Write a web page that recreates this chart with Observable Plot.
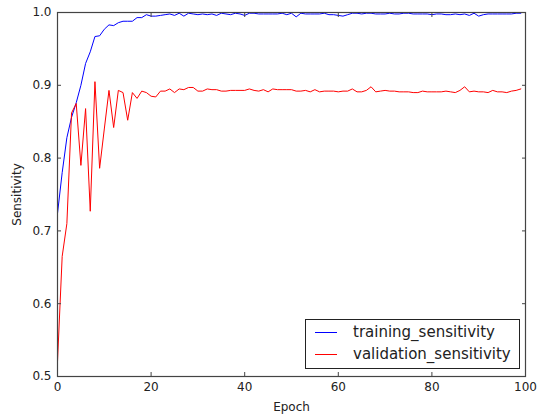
<!DOCTYPE html>
<html>
<head>
<meta charset="utf-8">
<script src="https://cdn.jsdelivr.net/npm/d3@7"></script>
<script src="https://cdn.jsdelivr.net/npm/@observablehq/plot@0.6"></script>
<style>
  body { margin: 0; background: #fff; }
  #wrap { position: relative; width: 548px; height: 414px; font-family: "DejaVu Sans", sans-serif; }
  #legend { position: absolute; left: 305px; top: 319px; width: 215px; height: 50px; border: 1px solid #222; background: #fff; box-sizing: border-box; font-size: 15px; color: #222; }
  .row { position: absolute; left: 0; height: 20px; display: flex; align-items: center; }
  .sw { width: 22px; height: 0; border-top: 1px solid; margin-left: 9px; margin-right: 16px; }
</style>
</head>
<body>
<div id="wrap"></div>
<script>
const seriesNames = ["training_sensitivity", "validation_sensitivity"];
const seriesColors = ["#0000ff", "#ff0000"];
const training = [
  0.724, 0.780, 0.828, 0.856, 0.876, 0.900, 0.930, 0.946, 0.967, 0.968,
  0.977, 0.983, 0.982, 0.986, 0.988, 0.988, 0.988, 0.993, 0.993, 0.997,
  0.995, 0.995, 0.996, 0.997, 0.998, 0.996, 0.999, 0.995, 0.999, 0.998,
  0.997, 0.998, 0.997, 0.998, 0.996, 0.999, 0.998, 0.997, 0.999, 0.998,
  0.996, 0.999, 0.999, 0.998, 0.998, 0.998, 0.998, 0.998, 0.999, 0.997,
  0.999, 0.994, 0.999, 0.998, 0.998, 0.998, 0.998, 0.999, 0.997, 0.997,
  0.996, 0.995, 0.997, 0.999, 0.999, 0.998, 0.999, 0.999, 0.998, 0.998,
  0.998, 0.999, 0.998, 0.998, 0.999, 0.999, 0.998, 0.998, 0.998, 0.998,
  0.997, 0.998, 0.998, 0.997, 0.997, 0.998, 0.997, 0.998, 0.996, 0.999,
  0.995, 0.997, 0.998, 0.998, 0.998, 0.998, 0.998, 0.998, 0.999, 0.999
];
const validation = [
  0.520, 0.665, 0.710, 0.862, 0.875, 0.790, 0.868, 0.727, 0.905, 0.786,
  0.840, 0.893, 0.842, 0.893, 0.890, 0.852, 0.890, 0.882, 0.892, 0.890,
  0.885, 0.884, 0.892, 0.892, 0.895, 0.890, 0.895, 0.894, 0.897, 0.897,
  0.892, 0.892, 0.895, 0.894, 0.894, 0.892, 0.892, 0.893, 0.893, 0.893,
  0.893, 0.895, 0.893, 0.892, 0.894, 0.891, 0.895, 0.894, 0.894, 0.894,
  0.894, 0.892, 0.892, 0.893, 0.891, 0.894, 0.891, 0.892, 0.892, 0.892,
  0.891, 0.892, 0.892, 0.895, 0.891, 0.891, 0.893, 0.898, 0.891, 0.892,
  0.893, 0.892, 0.892, 0.891, 0.891, 0.891, 0.890, 0.890, 0.892, 0.891,
  0.891, 0.891, 0.891, 0.892, 0.891, 0.890, 0.893, 0.898, 0.891, 0.892,
  0.891, 0.891, 0.890, 0.893, 0.891, 0.891, 0.890, 0.892, 0.893, 0.895
];
const xTicks = [0, 20, 40, 60, 80, 100];
const yTicks = [0.5, 0.6, 0.7, 0.8, 0.9, 1.0];

const data = [];
training.forEach((v, i) => data.push({epoch: i, value: v, series: seriesNames[0]}));
validation.forEach((v, i) => data.push({epoch: i, value: v, series: seriesNames[1]}));

const chart = Plot.plot({
  width: 548,
  height: 414,
  marginLeft: 57,
  marginRight: 23,
  marginTop: 12,
  marginBottom: 38,
  style: { fontFamily: "DejaVu Sans, sans-serif", fontSize: "11.5px", color: "#222", background: "#fff" },
  x: { domain: [0, 100] },
  y: { domain: [0.5, 1.0] },
  color: { domain: seriesNames, range: seriesColors },
  marks: [
    Plot.line(data, { x: "epoch", y: "value", z: "series", stroke: "series", strokeWidth: 1, clip: true }),
    Plot.axisX({ ticks: xTicks, tickSize: -4, tickPadding: 10, tickFormat: d => String(d), fontSize: 12, label: "Epoch", labelAnchor: "center", labelArrow: "none", labelOffset: 34, stroke: "#444" }),
    Plot.axisX({ anchor: "top", ticks: xTicks, tickSize: -4, tickFormat: () => "", label: null, stroke: "#444" }),
    Plot.axisY({ ticks: yTicks, tickSize: -4, tickPadding: 10, tickFormat: d => d.toFixed(1), fontSize: 12, label: "Sensitivity", labelAnchor: "center", labelArrow: "none", labelOffset: 45, stroke: "#444" }),
    Plot.axisY({ anchor: "right", ticks: yTicks, tickSize: -4, tickFormat: () => "", label: null, stroke: "#444" }),
    Plot.frame({ stroke: "#444", strokeWidth: 1.2 })
  ]
});
const wrap = document.getElementById("wrap");
wrap.appendChild(chart);

const legend = document.createElement("div");
legend.id = "legend";
seriesNames.forEach((name, i) => {
  const row = document.createElement("div");
  row.className = "row";
  row.style.top = (2 + i * 22) + "px";
  const sw = document.createElement("span");
  sw.className = "sw";
  sw.style.borderTopColor = seriesColors[i];
  const t = document.createElement("span");
  t.textContent = name;
  row.appendChild(sw);
  row.appendChild(t);
  legend.appendChild(row);
});
wrap.appendChild(legend);
</script>
</body>
</html>
